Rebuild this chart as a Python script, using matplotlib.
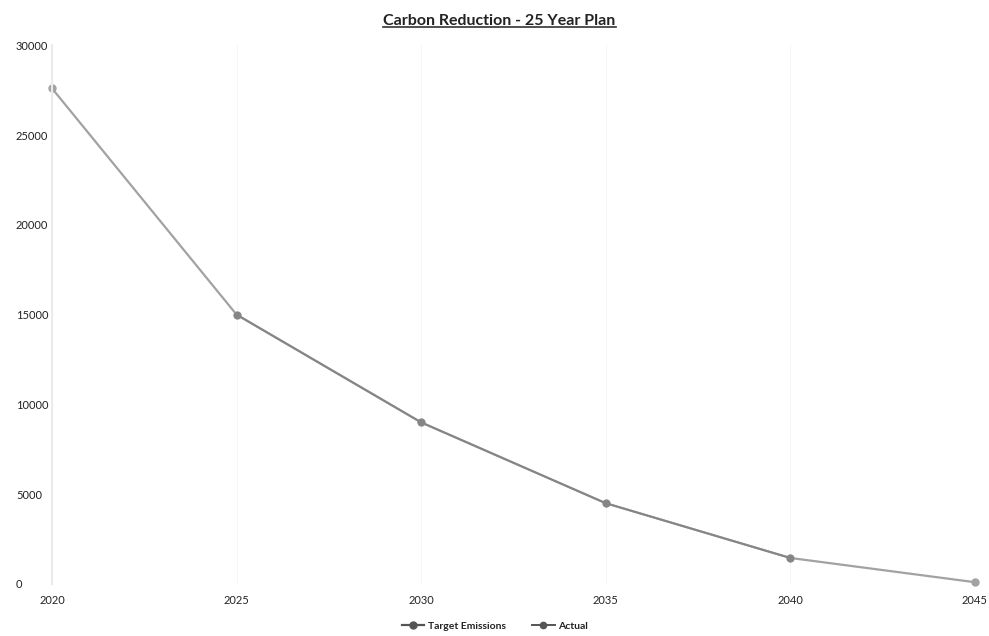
import matplotlib
matplotlib.use('Agg')
import matplotlib.pyplot as plt
from matplotlib.lines import Line2D

# Datos
years = [2020, 2025, 2030, 2035, 2040, 2045]
target = [27600, 15000, 9000, 4500, 1450, 100]
actual_years = [2025, 2030, 2035, 2040]
actual = [15000, 9000, 4500, 1450]
yticks = [0, 5000, 10000, 15000, 20000, 25000, 30000]

plt.rcParams['font.family'] = ['Lato', 'DejaVu Sans']

fig = plt.figure(figsize=(9.89, 6.36), dpi=100)
ax = fig.add_axes([0.0526, 0.0818, 0.933, 0.847])

ax.plot(years, target, color='#a2a2a2', linewidth=1.6, marker='o', markersize=5,
        label='Target Emissions', clip_on=False)
ax.plot(actual_years, actual, color='#858585', linewidth=1.4, marker='o', markersize=4.5,
        label='Actual', clip_on=False)

ax.set_xlim(2020, 2045)
ax.set_ylim(0, 30000)
ax.set_xticks(years)
ax.set_yticks(yticks)
ax.tick_params(length=0, labelsize=8, colors='#222222')
ax.tick_params(axis='x', pad=8)
ax.tick_params(axis='y', pad=26)
for lbl in ax.get_yticklabels():
    lbl.set_horizontalalignment('left')
ax.grid(axis='x', color='#f6f6f6', linewidth=0.8)
for s in ['top', 'right', 'bottom']:
    ax.spines[s].set_visible(False)
ax.spines['left'].set_color('#ebebeb')
ax.spines['left'].set_linewidth(1.5)

titulo = fig.text(0.505, 0.967, 'Carbon Reduction - 25 Year Plan', ha='center', va='center',
                  fontsize=11.5, fontweight='bold', color='#222222')
fig.canvas.draw()
bb = titulo.get_window_extent().transformed(fig.transFigure.inverted())
fig.add_artist(Line2D([bb.x0, bb.x1], [bb.y0 + 0.002, bb.y0 + 0.002], color='#333333',
                      linewidth=1.2, transform=fig.transFigure))

leg = fig.legend(loc='center', bbox_to_anchor=(0.5, 0.015), ncol=2, frameon=False, fontsize=7.5,
                 handlelength=2.2, columnspacing=2.5, handletextpad=0.3)
for h in leg.legend_handles:
    h.set_color('#555555')
for t in leg.get_texts():
    t.set_fontweight('bold')
    t.set_color('#222222')

plt.savefig('out.png', dpi=100)
plt.close()
